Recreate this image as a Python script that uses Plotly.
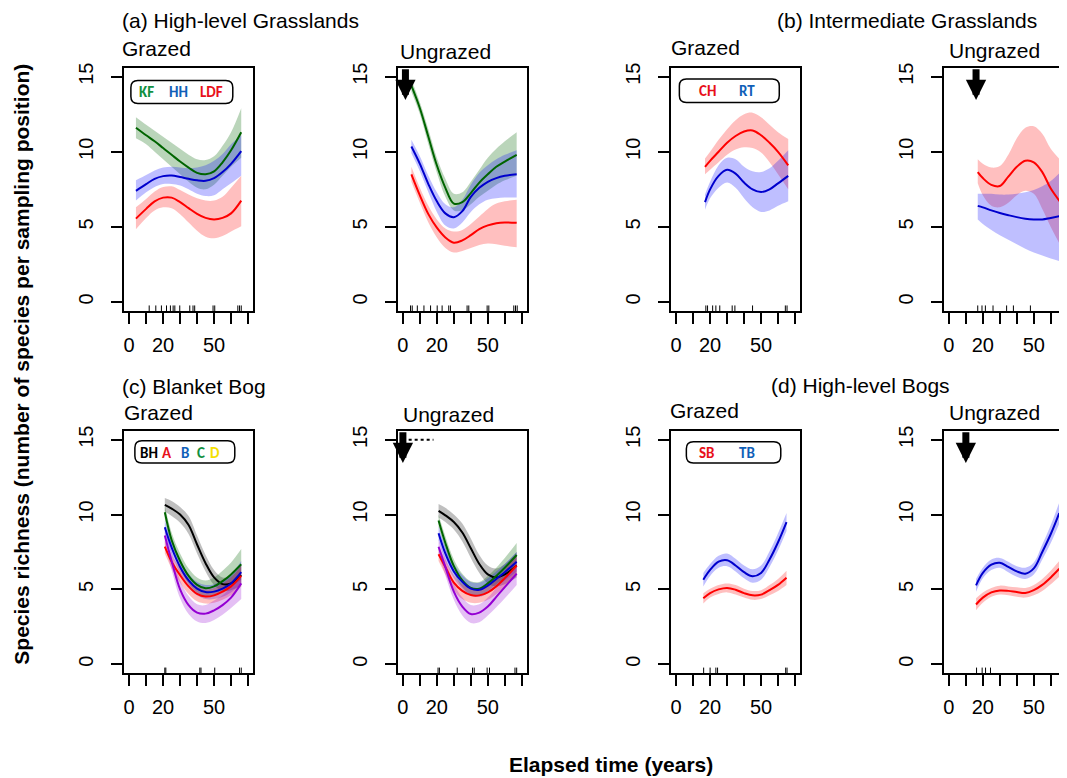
import plotly.graph_objects as go

# page offset: the browser body adds an 8px margin around the figure
PAGE_W, PAGE_H = 1067, 778
OFF = 8
W, H = PAGE_W - OFF, PAGE_H - OFF
FONT = "Liberation Sans, Arial, sans-serif"
LEGFONT = "Carlito, Lato, Open Sans, sans-serif"

# ---------------- data ----------------
# (a) High-level Grasslands, grazed
A_G_YEARS = [4, 10, 15, 20, 25, 30, 35, 40, 45, 50, 55, 60, 66]
A_G_KF_MEAN = [11.6, 11.1, 10.7, 10.25, 9.8, 9.35, 8.95, 8.6, 8.5, 8.7, 9.3, 10.1, 11.3]
A_G_KF_LO = [10.9, 10.5, 10.0, 9.5, 9.0, 8.5, 8.0, 7.6, 7.5, 7.8, 8.4, 9.0, 9.6]
A_G_KF_HI = [12.3, 11.8, 11.4, 11.0, 10.6, 10.2, 9.8, 9.5, 9.45, 9.7, 10.4, 11.3, 12.9]
A_G_HH_MEAN = [7.4, 7.85, 8.2, 8.38, 8.42, 8.32, 8.2, 8.1, 8.07, 8.25, 8.65, 9.2, 10.05]
A_G_HH_LO = [6.75, 7.3, 7.65, 7.85, 7.85, 7.75, 7.5, 7.2, 7.05, 7.1, 7.5, 7.9, 8.4]
A_G_HH_HI = [8.1, 8.45, 8.75, 8.95, 9.0, 8.95, 8.9, 8.95, 9.1, 9.4, 9.85, 10.5, 11.1]
A_G_LDF_MEAN = [5.55, 6.2, 6.7, 6.95, 6.95, 6.65, 6.25, 5.87, 5.6, 5.5, 5.6, 5.9, 6.75]
A_G_LDF_LO = [4.85, 5.6, 6.1, 6.3, 6.25, 5.85, 5.3, 4.75, 4.35, 4.25, 4.4, 4.7, 5.05]
A_G_LDF_HI = [6.3, 6.85, 7.35, 7.65, 7.7, 7.45, 7.15, 6.9, 6.75, 6.75, 7.0, 7.6, 8.4]
A_G_RUG = [11.8, 15.7, 19, 22, 24.3, 25.9, 26.9, 29.8, 35.7, 37.6, 38.6, 49.4, 50.4, 64, 65, 66]

# (a) High-level Grasslands, ungrazed
A_U_YEARS = [5, 10, 15, 20, 25, 30, 35, 40, 45, 50, 55, 60, 67]
A_U_KF_MEAN = [14.4, 12.9, 11.0, 9.1, 7.6, 6.55, 6.65, 7.25, 7.95, 8.5, 9.0, 9.35, 9.8]
A_U_KF_LO = [14.0, 12.5, 10.5, 8.6, 7.0, 6.1, 6.1, 6.5, 7.0, 7.4, 7.8, 8.1, 8.4]
A_U_KF_HI = [14.8, 13.3, 11.5, 9.6, 8.2, 7.2, 7.3, 8.0, 8.8, 9.6, 10.2, 10.7, 11.3]
A_U_HH_MEAN = [10.35, 9.2, 7.85, 6.7, 5.9, 5.65, 6.05, 7.0, 7.6, 8.0, 8.25, 8.4, 8.5]
A_U_HH_LO = [9.9, 8.7, 7.3, 6.0, 5.1, 4.9, 5.3, 6.0, 6.5, 6.8, 6.9, 6.95, 6.95]
A_U_HH_HI = [10.8, 9.7, 8.4, 7.3, 6.5, 6.3, 6.8, 7.8, 8.6, 9.1, 9.5, 9.8, 10.1]
A_U_LDF_MEAN = [8.5, 7.1, 5.85, 4.95, 4.3, 3.95, 4.1, 4.45, 4.85, 5.1, 5.25, 5.3, 5.27]
A_U_LDF_LO = [8.0, 6.6, 5.3, 4.3, 3.6, 3.3, 3.4, 3.6, 3.8, 3.9, 3.85, 3.75, 3.65]
A_U_LDF_HI = [9.0, 7.6, 6.4, 5.5, 4.9, 4.7, 4.8, 5.2, 5.7, 6.2, 6.55, 6.7, 6.8]
A_U_RUG = [4.5, 5.5, 8.5, 12.4, 16.3, 20.2, 23.1, 27, 28, 37.8, 38.8, 49.6, 50.6, 65.3, 66.3, 67.3]

# (b) Intermediate Grasslands, grazed
B_G_YEARS = [17, 20, 25, 30, 35, 40, 45, 50, 55, 60, 66]
B_G_CH_MEAN = [9.0, 9.4, 10.0, 10.6, 11.05, 11.35, 11.42, 11.1, 10.6, 10.0, 9.1]
B_G_CH_LO = [8.5, 8.8, 9.3, 9.8, 10.15, 10.3, 10.25, 9.95, 9.3, 8.5, 7.5]
B_G_CH_HI = [9.55, 10.0, 10.8, 11.5, 12.1, 12.5, 12.6, 12.3, 11.8, 11.3, 10.85]
B_G_RT_MEAN = [6.65, 7.5, 8.4, 8.8, 8.55, 7.95, 7.5, 7.32, 7.5, 7.9, 8.4]
B_G_RT_LO = [6.15, 6.9, 7.6, 7.95, 7.6, 6.9, 6.3, 6.0, 6.1, 6.4, 6.7]
B_G_RT_HI = [7.15, 8.0, 9.1, 9.6, 9.5, 9.0, 8.7, 8.65, 8.9, 9.4, 10.1]
B_G_RUG = [17.5, 18.5, 21.5, 23.4, 25.7, 33, 34.6, 45, 64.3, 65.3]

# (b) Intermediate Grasslands, ungrazed
B_U_YEARS = [17, 20, 25, 30, 35, 40, 45, 50, 55, 60, 67]
B_U_CH_MEAN = [8.65, 8.25, 7.8, 7.72, 8.35, 9.0, 9.4, 9.3, 8.65, 7.55, 6.45]
B_U_CH_LO = [7.9, 7.1, 6.4, 6.3, 6.6, 7.1, 7.4, 7.2, 6.2, 5.0, 3.5]
B_U_CH_HI = [9.5, 9.2, 8.95, 9.05, 9.8, 10.9, 11.6, 11.7, 11.2, 10.2, 9.3]
B_U_RT_MEAN = [6.4, 6.3, 6.1, 5.92, 5.78, 5.65, 5.55, 5.5, 5.5, 5.6, 5.75]
B_U_RT_LO = [5.5, 5.2, 4.8, 4.45, 4.15, 3.85, 3.55, 3.3, 3.1, 2.9, 2.65]
B_U_RT_HI = [7.2, 7.2, 7.2, 7.15, 7.15, 7.2, 7.3, 7.45, 7.7, 8.05, 8.8]
B_U_RUG = [17, 19.5, 21.5, 26, 34, 38, 48, 66, 67]

# (c) Blanket Bog, grazed
C_G_YEARS = [21, 25, 30, 35, 40, 45, 50, 55, 60, 66]
C_G_BH_MEAN = [10.65, 10.4, 10.0, 9.3, 8.0, 6.75, 5.8, 5.35, 5.4, 5.95]
C_G_BH_LO = [10.2, 9.9, 9.45, 8.7, 7.4, 6.2, 5.3, 4.9, 4.95, 5.3]
C_G_BH_HI = [11.1, 10.9, 10.5, 9.9, 8.6, 7.3, 6.3, 5.8, 5.9, 6.6]
C_G_A_MEAN = [7.85, 6.85, 5.95, 5.2, 4.7, 4.52, 4.6, 4.85, 5.2, 5.9]
C_G_A_LO = [7.4, 6.4, 5.45, 4.7, 4.2, 4.05, 4.1, 4.3, 4.6, 5.2]
C_G_A_HI = [8.3, 7.3, 6.45, 5.7, 5.2, 5.0, 5.1, 5.4, 5.8, 6.6]
C_G_B_MEAN = [9.15, 7.8, 6.5, 5.6, 5.05, 4.82, 4.85, 5.05, 5.4, 6.15]
C_G_B_LO = [8.7, 7.35, 6.05, 5.15, 4.6, 4.35, 4.35, 4.5, 4.8, 5.4]
C_G_B_HI = [9.6, 8.25, 6.95, 6.05, 5.5, 5.3, 5.35, 5.6, 6.0, 6.9]
C_G_C_MEAN = [10.15, 8.3, 6.9, 5.9, 5.3, 5.07, 5.2, 5.55, 6.0, 6.68]
C_G_C_LO = [9.7, 7.8, 6.4, 5.4, 4.8, 4.55, 4.6, 4.85, 5.2, 5.65]
C_G_C_HI = [10.6, 8.8, 7.4, 6.4, 5.8, 5.6, 5.8, 6.25, 6.8, 7.7]
C_G_D_MEAN = [8.6, 6.9, 5.0, 3.95, 3.45, 3.38, 3.6, 3.95, 4.45, 5.4]
C_G_D_LO = [8.0, 6.3, 4.4, 3.35, 2.85, 2.75, 2.95, 3.3, 3.75, 4.35]
C_G_D_HI = [9.1, 7.5, 5.6, 4.55, 4.0, 3.95, 4.25, 4.6, 5.2, 6.2]
C_G_RUG = [21, 21.6, 41.6, 42.3, 50.4, 65, 66]

# (c) Blanket Bog, ungrazed
C_U_YEARS = [21, 25, 30, 35, 40, 45, 50, 55, 60, 67]
C_U_BH_MEAN = [10.25, 9.95, 9.5, 8.8, 7.75, 6.7, 6.0, 5.8, 6.0, 6.6]
C_U_BH_LO = [9.8, 9.5, 9.0, 8.2, 7.1, 6.1, 5.4, 5.2, 5.35, 5.8]
C_U_BH_HI = [10.7, 10.45, 10.0, 9.4, 8.4, 7.3, 6.6, 6.4, 6.7, 7.5]
C_U_A_MEAN = [7.35, 6.5, 5.45, 4.9, 4.62, 4.6, 4.8, 5.2, 5.75, 6.6]
C_U_A_LO = [6.9, 6.0, 4.95, 4.35, 4.1, 4.1, 4.3, 4.7, 5.2, 5.9]
C_U_A_HI = [7.8, 7.0, 5.95, 5.35, 5.1, 5.1, 5.3, 5.7, 6.3, 7.3]
C_U_B_MEAN = [8.75, 7.4, 6.2, 5.5, 5.05, 4.97, 5.25, 5.7, 6.15, 6.85]
C_U_B_LO = [8.3, 6.95, 5.75, 5.05, 4.6, 4.5, 4.75, 5.2, 5.6, 6.2]
C_U_B_HI = [9.2, 7.85, 6.7, 5.95, 5.5, 5.45, 5.75, 6.2, 6.7, 7.5]
C_U_C_MEAN = [9.6, 8.1, 6.55, 5.6, 5.1, 5.05, 5.4, 5.9, 6.45, 7.3]
C_U_C_LO = [9.2, 7.65, 6.1, 5.15, 4.65, 4.6, 4.9, 5.35, 5.8, 6.5]
C_U_C_HI = [10.0, 8.55, 7.0, 6.05, 5.55, 5.5, 5.9, 6.45, 7.1, 8.1]
C_U_D_MEAN = [7.85, 6.5, 4.85, 3.85, 3.35, 3.45, 3.85, 4.5, 5.15, 6.05]
C_U_D_LO = [7.35, 5.95, 4.3, 3.25, 2.75, 2.8, 3.25, 3.8, 4.4, 5.3]
C_U_D_HI = [8.35, 7.05, 5.4, 4.45, 3.95, 4.0, 4.45, 5.1, 5.7, 6.8]
C_U_RUG = [20.7, 21.5, 32, 41, 42, 49.6, 51, 66, 67]
C_U_DOTTED_X = [3.4, 18.0]
C_U_DOTTED_Y = [15, 15]

# (d) High-level Bogs, grazed
D_G_YEARS = [16, 20, 25, 30, 35, 40, 45, 50, 55, 60, 65]
D_G_TB_MEAN = [5.65, 6.3, 6.85, 6.95, 6.6, 6.15, 5.88, 6.1, 7.0, 8.15, 9.5]
D_G_TB_LO = [5.2, 5.9, 6.45, 6.55, 6.2, 5.75, 5.45, 5.65, 6.5, 7.6, 8.9]
D_G_TB_HI = [6.1, 6.7, 7.25, 7.4, 7.05, 6.6, 6.35, 6.6, 7.55, 8.75, 10.1]
D_G_SB_MEAN = [4.4, 4.75, 5.0, 5.1, 4.98, 4.75, 4.6, 4.65, 4.95, 5.3, 5.78]
D_G_SB_LO = [4.05, 4.45, 4.7, 4.8, 4.65, 4.45, 4.3, 4.35, 4.6, 4.9, 5.3]
D_G_SB_HI = [4.75, 5.05, 5.3, 5.4, 5.3, 5.05, 4.9, 4.95, 5.3, 5.7, 6.25]
D_G_RUG = [16.2, 20, 23.4, 24.4, 64.5, 65.3]

# (d) High-level Bogs, ungrazed
D_U_YEARS = [16, 20, 25, 30, 35, 40, 45, 50, 55, 60, 65]
D_U_TB_MEAN = [5.27, 6.1, 6.65, 6.78, 6.5, 6.2, 6.05, 6.4, 7.5, 8.7, 10.1]
D_U_TB_LO = [4.85, 5.75, 6.3, 6.45, 6.15, 5.85, 5.7, 6.0, 7.0, 8.1, 9.4]
D_U_TB_HI = [5.7, 6.45, 7.0, 7.1, 6.85, 6.55, 6.45, 6.8, 8.0, 9.3, 10.8]
D_U_SB_MEAN = [3.99, 4.45, 4.8, 4.93, 4.9, 4.82, 4.76, 4.95, 5.3, 5.8, 6.38]
D_U_SB_LO = [3.6, 4.1, 4.5, 4.65, 4.6, 4.5, 4.45, 4.6, 4.9, 5.35, 5.85]
D_U_SB_HI = [4.4, 4.8, 5.1, 5.25, 5.2, 5.15, 5.1, 5.3, 5.7, 6.25, 6.9]
D_U_RUG = [16.3, 19.6, 21.6, 24.5, 66]

# grazing-removal arrows (year) for ungrazed panels
ARROW_YEARS = {2: 1.5, 4: 16.0, 6: 0.0, 8: 10.0}

X_TICKS = [0, 10, 20, 30, 40, 50, 60, 70]
X_TICKTEXT = ["0", "", "20", "", "", "50", "", ""]
Y_TICKS = [0, 5, 10, 15]

# ---------------- styles ----------------
GREEN = ("#006400", "rgba(0,100,0,0.27)")
BLUE = ("#0000CD", "rgba(0,0,255,0.25)")
RED = ("#FF0000", "rgba(255,0,0,0.25)")
BLACK = ("#000000", "rgba(0,0,0,0.25)")
PURPLE = ("#9400D3", "rgba(148,0,211,0.25)")

PANELS = {
    1: [(A_G_YEARS, A_G_KF_MEAN, A_G_KF_LO, A_G_KF_HI, GREEN),
        (A_G_YEARS, A_G_HH_MEAN, A_G_HH_LO, A_G_HH_HI, BLUE),
        (A_G_YEARS, A_G_LDF_MEAN, A_G_LDF_LO, A_G_LDF_HI, RED)],
    2: [(A_U_YEARS, A_U_KF_MEAN, A_U_KF_LO, A_U_KF_HI, GREEN),
        (A_U_YEARS, A_U_HH_MEAN, A_U_HH_LO, A_U_HH_HI, BLUE),
        (A_U_YEARS, A_U_LDF_MEAN, A_U_LDF_LO, A_U_LDF_HI, RED)],
    3: [(B_G_YEARS, B_G_CH_MEAN, B_G_CH_LO, B_G_CH_HI, RED),
        (B_G_YEARS, B_G_RT_MEAN, B_G_RT_LO, B_G_RT_HI, BLUE)],
    4: [(B_U_YEARS, B_U_CH_MEAN, B_U_CH_LO, B_U_CH_HI, RED),
        (B_U_YEARS, B_U_RT_MEAN, B_U_RT_LO, B_U_RT_HI, BLUE)],
    5: [(C_G_YEARS, C_G_BH_MEAN, C_G_BH_LO, C_G_BH_HI, BLACK),
        (C_G_YEARS, C_G_C_MEAN, C_G_C_LO, C_G_C_HI, GREEN),
        (C_G_YEARS, C_G_B_MEAN, C_G_B_LO, C_G_B_HI, BLUE),
        (C_G_YEARS, C_G_A_MEAN, C_G_A_LO, C_G_A_HI, RED),
        (C_G_YEARS, C_G_D_MEAN, C_G_D_LO, C_G_D_HI, PURPLE)],
    6: [(C_U_YEARS, C_U_BH_MEAN, C_U_BH_LO, C_U_BH_HI, BLACK),
        (C_U_YEARS, C_U_C_MEAN, C_U_C_LO, C_U_C_HI, GREEN),
        (C_U_YEARS, C_U_B_MEAN, C_U_B_LO, C_U_B_HI, BLUE),
        (C_U_YEARS, C_U_A_MEAN, C_U_A_LO, C_U_A_HI, RED),
        (C_U_YEARS, C_U_D_MEAN, C_U_D_LO, C_U_D_HI, PURPLE)],
    7: [(D_G_YEARS, D_G_TB_MEAN, D_G_TB_LO, D_G_TB_HI, BLUE),
        (D_G_YEARS, D_G_SB_MEAN, D_G_SB_LO, D_G_SB_HI, RED)],
    8: [(D_U_YEARS, D_U_TB_MEAN, D_U_TB_LO, D_U_TB_HI, BLUE),
        (D_U_YEARS, D_U_SB_MEAN, D_U_SB_LO, D_U_SB_HI, RED)],
}
RUGS = {1: A_G_RUG, 2: A_U_RUG, 3: B_G_RUG, 4: B_U_RUG,
        5: C_G_RUG, 6: C_U_RUG, 7: D_G_RUG, 8: D_U_RUG}

# layout geometry (page pixels)
COLS = [(123.5, 252.0), (397.5, 526.0), (671.0, 799.5), (944.0, 1067.0)]
ROWS = [(63.0, 308.0), (428.5, 672.5)]
PX_PER_YR = 1.70
X_MIN = -2.8
Y_RANGE = [-0.6, 15.6]


def px(x):
    return (x - OFF) / W


def py(y):
    return 1 - (y - OFF) / H


fig = go.Figure()
layout = dict(width=W, height=H, margin=dict(l=0, r=0, t=0, b=0),
              plot_bgcolor="white", paper_bgcolor="white", showlegend=False,
              font=dict(family=FONT, color="black"))

for p in range(1, 9):
    col = (p - 1) % 4
    row = (p - 1) // 4
    xs = "" if p == 1 else str(p)
    x0, x1 = COLS[col]
    y0, y1 = ROWS[row]
    xmax = X_MIN + (x1 - x0) / PX_PER_YR
    layout["xaxis" + xs] = dict(
        domain=[px(x0), min(1.0, px(x1))], range=[X_MIN, xmax], anchor="y" + xs,
        showgrid=False, zeroline=False, showline=True, mirror=True,
        linecolor="black", linewidth=2, ticks="outside", ticklen=11, tickwidth=2,
        tickcolor="black", tickvals=X_TICKS, ticktext=X_TICKTEXT,
        tickfont=dict(size=20, family=FONT, color="black"), ticklabelstandoff=4)
    layout["yaxis" + xs] = dict(
        domain=[py(y1), py(y0)], range=Y_RANGE, anchor="x" + xs,
        showgrid=False, zeroline=False, showline=True, mirror=(col != 3),
        linecolor="black", linewidth=2, ticks="outside", ticklen=11, tickwidth=2,
        tickcolor="black", tickvals=Y_TICKS, tickangle=-90,
        tickfont=dict(size=20, family=FONT, color="black"), ticklabelstandoff=10)

    xa, ya = "x" + xs, "y" + xs
    series = PANELS[p]
    for (yrs, mean, lo, hi, (lc, fc)) in series:
        fig.add_trace(go.Scatter(x=yrs, y=lo, xaxis=xa, yaxis=ya, mode="lines",
                                 line=dict(width=0, shape="spline", smoothing=1.0),
                                 hoverinfo="skip"))
        fig.add_trace(go.Scatter(x=yrs, y=hi, xaxis=xa, yaxis=ya, mode="lines",
                                 line=dict(width=0, shape="spline", smoothing=1.0),
                                 fill="tonexty", fillcolor=fc, hoverinfo="skip"))
    for (yrs, mean, lo, hi, (lc, fc)) in series:
        fig.add_trace(go.Scatter(x=yrs, y=mean, xaxis=xa, yaxis=ya, mode="lines",
                                 line=dict(width=2, color=lc, shape="spline", smoothing=1.0)))
    rug = RUGS[p]
    fig.add_trace(go.Scatter(x=rug, y=[Y_RANGE[0]] * len(rug), xaxis=xa, yaxis=ya,
                             mode="markers", hoverinfo="skip",
                             marker=dict(symbol="line-ns", size=8,
                                         line=dict(width=1, color="black"))))
    if p == 6:
        fig.add_trace(go.Scatter(x=C_U_DOTTED_X, y=C_U_DOTTED_Y, xaxis=xa, yaxis=ya,
                                 mode="lines", line=dict(color="black", width=2, dash="dot"),
                                 cliponaxis=False))

annotations = []
shapes = []

# arrows
for p, yr in ARROW_YEARS.items():
    xs = str(p)
    annotations.append(dict(x=yr, y=13.45, ax=yr, ay=15.6, xref="x" + xs, yref="y" + xs,
                            axref="x" + xs, ayref="y" + xs, text="", showarrow=True,
                            arrowhead=2, arrowwidth=7, arrowsize=0.58, arrowcolor="black",
                            standoff=0))

TXT_DY = -4


def label(text, x, y, size=21, anchor="left", bold=False, angle=0, fam=FONT, dy=TXT_DY):
    annotations.append(dict(text=("<b>%s</b>" % text) if bold else text,
                            x=px(x), y=py(y + dy), xref="paper", yref="paper",
                            xanchor=anchor, yanchor="middle", showarrow=False,
                            textangle=angle, font=dict(size=size, family=fam, color="black")))


label("(a) High-level Grasslands", 119, 20)
label("Grazed", 119, 48)
label("Ungrazed", 397, 51)
label("(b) Intermediate Grasslands", 775, 20)
label("Grazed", 669, 47)
label("Ungrazed", 947, 50)
label("(c) Blanket Bog", 119, 388)
label("Grazed", 121, 414)
label("Ungrazed", 400, 416)
label("(d) High-level Bogs", 769, 387)
label("Grazed", 668, 412)
label("Ungrazed", 947, 414)

label("Elapsed time (years)", 611, 764, size=21, anchor="center", bold=True, dy=0)
annotations.append(dict(text="<b>Species richness (number of species per sampling position)</b>",
                        x=px(21), y=py(361), xref="paper", yref="paper", xanchor="center",
                        yanchor="middle", showarrow=False, textangle=-90,
                        font=dict(size=21, family=FONT, color="black")))


def rounded_box(x0, y0, x1, y1, r=7):
    X0, X1 = px(x0), px(x1)
    Y0, Y1 = py(y0), py(y1)
    rx, ry = r / W, r / H
    path = (f"M {X0+rx},{Y0} L {X1-rx},{Y0} Q {X1},{Y0} {X1},{Y0-ry} "
            f"L {X1},{Y1+ry} Q {X1},{Y1} {X1-rx},{Y1} L {X0+rx},{Y1} "
            f"Q {X0},{Y1} {X0},{Y1+ry} L {X0},{Y0-ry} Q {X0},{Y0} {X0+rx},{Y0} Z")
    shapes.append(dict(type="path", path=path, xref="paper", yref="paper",
                       line=dict(color="black", width=1.5), fillcolor="white"))


LEG_GREEN, LEG_BLUE, LEG_RED, LEG_YEL = "#119040", "#1060B8", "#E8101A", "#F5E000"


def legtext(text, x, y, color):
    annotations.append(dict(text="<b>%s</b>" % text, x=px(x), y=py(y), xref="paper",
                            yref="paper", xanchor="center", yanchor="middle",
                            showarrow=False, font=dict(size=15, family=LEGFONT, color=color)))


rounded_box(130, 76, 232, 99)
legtext("KF", 145.5, 87.5, LEG_GREEN)
legtext("HH", 177.5, 87.5, LEG_BLUE)
legtext("LDF", 210.5, 87.5, LEG_RED)

rounded_box(679, 74.5, 779, 98)
legtext("CH", 707.5, 86.5, LEG_RED)
legtext("RT", 747, 86.5, LEG_BLUE)

rounded_box(134, 438.5, 234, 461)
legtext("BH", 148, 450.5, "black")
legtext("A", 166, 450.5, LEG_RED)
legtext("B", 184, 450.5, LEG_BLUE)
legtext("C", 200.5, 450.5, LEG_GREEN)
legtext("D", 214.5, 450.5, LEG_YEL)

rounded_box(686, 439.5, 780.5, 461)
legtext("SB", 707, 450.5, LEG_RED)
legtext("TB", 747, 450.5, LEG_BLUE)

layout["annotations"] = annotations
layout["shapes"] = shapes
fig.update_layout(**layout)
fig.write_html("out.html")
